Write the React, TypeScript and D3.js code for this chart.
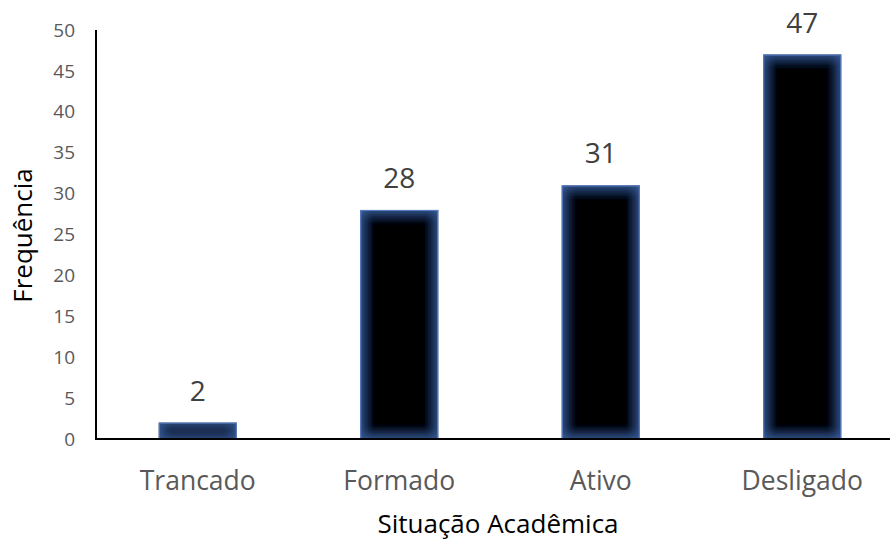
import React from "react";
import * as d3 from "d3";

const categories = ["Trancado", "Formado", "Ativo", "Desligado"];
const values = [2, 28, 31, 47];
const yTicks = [0, 5, 10, 15, 20, 25, 30, 35, 40, 45, 50];

const W = 890;
const H = 541;
const FONT = "'Open Sans', 'Noto Sans', sans-serif";

export default function App() {
  const x = d3
    .scaleBand<string>()
    .domain(categories)
    .range([97, 903])
    .paddingInner(0.613)
    .paddingOuter(0.3065);
  const y = d3.scaleLinear().domain([0, 50]).range([439, 30]);

  return (
    <svg
      width={W}
      height={H}
      style={{ position: "absolute", left: 0, top: 0, background: "#fff" }}
      fontFamily={FONT}
    >
      <defs>
        <filter id="innerGlow" x="-50%" y="-50%" width="200%" height="200%">
          <feFlood floodColor="#4169b0" result="flood" />
          <feComposite in="flood" in2="SourceAlpha" operator="out" result="outside" />
          <feGaussianBlur in="outside" stdDeviation="6.5" result="blur" />
          <feComposite in="blur" in2="SourceAlpha" operator="in" result="glow" />
          <feMerge>
            <feMergeNode in="SourceGraphic" />
            <feMergeNode in="glow" />
          </feMerge>
        </filter>
      </defs>

      {/* bars */}
      {categories.map((c, i) => {
        const x0 = x(c)!;
        const y0 = y(values[i]);
        return (
          <g key={c}>
            <rect
              x={x0}
              y={y0}
              width={x.bandwidth()}
              height={y(0) - y0}
              fill="#000"
              filter="url(#innerGlow)"
            />
            <rect
              x={x0 + 0.5}
              y={y0 + 0.5}
              width={x.bandwidth() - 1}
              height={Math.max(0, y(0) - y0 - 1)}
              fill="none"
              stroke="#5a7fc2"
              strokeWidth={1}
            />
            <text
              x={x0 + x.bandwidth() / 2}
              y={y0 - 22}
              textAnchor="middle"
              fontSize={28}
              fill="#404040"
            >
              {values[i]}
            </text>
            <text
              x={x0 + x.bandwidth() / 2}
              y={490}
              textAnchor="middle"
              fontSize={26.5}
              fill="#595959"
            >
              {c}
            </text>
          </g>
        );
      })}

      {/* y tick labels */}
      {yTicks.map((t) => (
        <text
          key={t}
          x={75}
          y={y(t)}
          dy="0.35em"
          textAnchor="end"
          fontSize={19}
          fill="#595959"
        >
          {t}
        </text>
      ))}

      {/* axes */}
      <line x1={96} x2={96} y1={y(50)} y2={y(0) + 1} stroke="#000" strokeWidth={2} />
      <line x1={95} x2={890} y1={y(0)} y2={y(0)} stroke="#000" strokeWidth={2} />

      {/* axis titles */}
      <text x={498} y={533} textAnchor="middle" fontSize={26} fill="#000">
        Situação Acadêmica
      </text>
      <text
        transform={`translate(32, ${y(25) + 1}) rotate(-90)`}
        textAnchor="middle"
        fontSize={26}
        fill="#000"
      >
        Frequência
      </text>
    </svg>
  );
}
